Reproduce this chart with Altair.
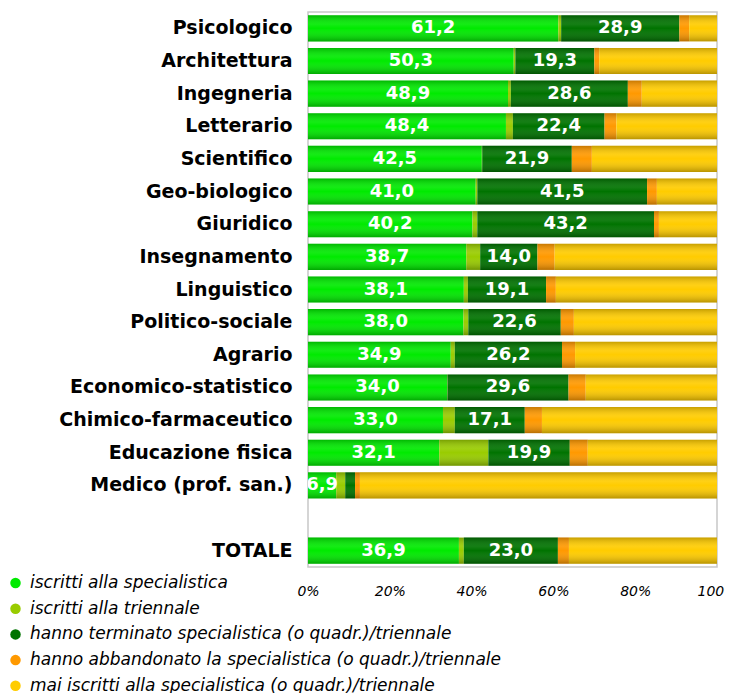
import altair as alt
import pandas as pd

categories = ["Psicologico", "Architettura", "Ingegneria", "Letterario", "Scientifico",
              "Geo-biologico", "Giuridico", "Insegnamento", "Linguistico", "Politico-sociale",
              "Agrario", "Economico-statistico", "Chimico-farmaceutico", "Educazione fisica",
              "Medico (prof. san.)", "TOTALE"]
row_order = categories[:15] + [" "] + ["TOTALE"]

series = ["iscritti alla specialistica",
          "iscritti alla triennale",
          "hanno terminato specialistica (o quadr.)/triennale",
          "hanno abbandonato la specialistica (o quadr.)/triennale",
          "mai iscritti alla specialistica (o quadr.)/triennale"]
colors = ["#00ea00", "#99cc00", "#007300", "#ff9900", "#ffcc00"]

spec = [61.2, 50.3, 48.9, 48.4, 42.5, 41.0, 40.2, 38.7, 38.1, 38.0, 34.9, 34.0, 33.0, 32.1, 6.9, 36.9]
trien = [0.7, 0.4, 0.7, 1.7, 0.1, 0.4, 1.2, 3.4, 1.0, 1.2, 1.0, 0.1, 2.9, 12.0, 2.2, 1.2]
term = [28.9, 19.3, 28.6, 22.4, 21.9, 41.5, 43.2, 14.0, 19.1, 22.6, 26.2, 29.6, 17.1, 19.9, 2.4, 23.0]
abb = [2.4, 1.2, 3.4, 2.9, 4.9, 2.4, 1.2, 4.2, 2.4, 3.2, 3.2, 4.2, 4.2, 4.4, 1.2, 2.7]
mai = [6.8, 28.8, 18.4, 24.6, 30.6, 14.7, 14.2, 39.7, 39.4, 35.0, 34.7, 32.1, 42.8, 31.6, 87.3, 36.2]

x_ticks = [0, 20, 40, 60, 80, 100]

rows = []
for i, c in enumerate(categories):
    vals = [spec[i], trien[i], term[i], abb[i], mai[i]]
    start = 0.0
    for k, (s, v) in enumerate(zip(series, vals)):
        rows.append({
            "cat": c, "series": s, "idx": k, "value": v,
            "start": start, "end": start + v, "mid": start + v / 2,
            "label": f"{v:.1f}".replace(".", ",") if (k == 0 or (k == 2 and v >= 5)) else "",
        })
        start += v
df = pd.DataFrame(rows)

font = "DejaVu Sans"

y_enc = alt.Y("cat:N", sort=row_order,
              scale=alt.Scale(domain=row_order, paddingInner=0.2, paddingOuter=0.1),
              axis=alt.Axis(title=None, ticks=False, domain=False, labelFont=font,
                            labelFontSize=19, labelFontWeight="bold", labelColor="black",
                            labelPadding=16, labelLimit=400))
x_enc = alt.X("start:Q", scale=alt.Scale(domain=[0, 100], nice=False),
              axis=alt.Axis(title=None, values=x_ticks, ticks=False, domain=False, grid=False,
                            labelExpr="datum.value + '%'", labelFont=font, labelFontSize=14,
                            labelFontStyle="italic", labelColor="black", labelPadding=17,
                            labelFlush=False))

base = alt.Chart(df)

bars = base.mark_bar(cornerRadius=0, stroke=None).encode(
    y=y_enc,
    x=x_enc,
    x2="end:Q",
    color=alt.Color("series:N", sort=series,
                    scale=alt.Scale(domain=series, range=colors),
                    legend=alt.Legend(orient="none", legendX=-301, legendY=562.5, title=None,
                                      symbolType="circle", symbolSize=110, symbolStrokeWidth=0,
                                      symbolOpacity=1, labelFont=font, labelFontSize=17,
                                      labelFontStyle="italic", labelColor="black",
                                      labelOffset=6, rowPadding=7.7, padding=0,
                                      labelLimit=600)),
)

shade = base.mark_bar(
    fill=alt.Gradient(gradient="linear", x1=0, y1=0, x2=0, y2=1,
                      stops=[alt.GradientStop(offset=0, color="rgba(0,0,0,0.22)"),
                             alt.GradientStop(offset=0.35, color="rgba(255,255,255,0.08)"),
                             alt.GradientStop(offset=0.5, color="rgba(255,255,255,0.0)"),
                             alt.GradientStop(offset=1, color="rgba(0,0,0,0.28)")]),
    stroke=None,
).encode(y=alt.Y("cat:N", sort=row_order), x="start:Q", x2="end:Q")

text = base.transform_filter("datum.label != ''").mark_text(
    font=font, fontSize=18, fontWeight="bold", color="white",
    align="center", baseline="middle", clip=True,
).encode(y=alt.Y("cat:N", sort=row_order), x="mid:Q", text="label:N")

chart = alt.layer(bars, shade, text).properties(
    width=409, height=555,
    padding={"left": 300, "top": 4, "right": 8, "bottom": 126},
    autosize=alt.AutoSizeParams(type="none"),
).configure_view(stroke="#c8c8c8", strokeWidth=1.5, fill="white")

chart.save("out.html", embed_options={"renderer": "svg", "actions": False})
